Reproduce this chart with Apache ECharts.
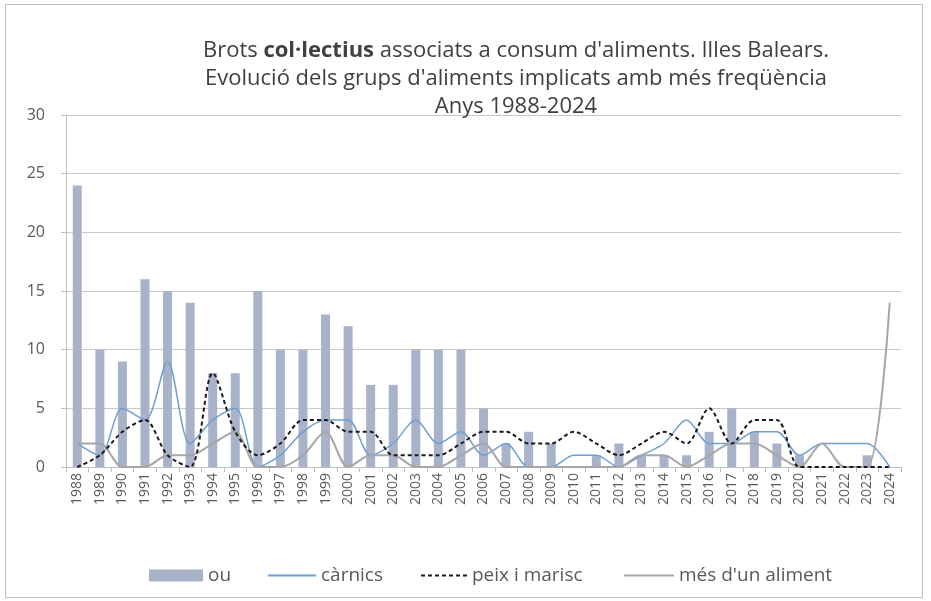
<!DOCTYPE html>
<html>
<head>
<meta charset="utf-8">
<script src="https://cdn.jsdelivr.net/npm/echarts@6/dist/echarts.min.js"></script>
<style>
html,body{margin:0;padding:0;background:#fff;}
#chart{width:931px;height:601px;}
</style>
</head>
<body>
<div id="chart"></div>
<script>
const years = ['1988','1989','1990','1991','1992','1993','1994','1995','1996','1997','1998','1999','2000','2001','2002','2003','2004','2005','2006','2007','2008','2009','2010','2011','2012','2013','2014','2015','2016','2017','2018','2019','2020','2021','2022','2023','2024'];
const ou      = [24,10,9,16,15,14,8,8,15,10,10,13,12,7,7,10,10,10,5,2,3,2,0,1,2,1,1,1,3,5,3,2,1,0,0,1,0];
const carnics = [2,1,5,4,9,2,4,5,0,1,3,4,4,1,2,4,2,3,1,2,0,0,1,1,0,1,2,4,2,2,3,3,1,2,2,2,0];
const peix    = [0,1,3,4,1,0,8,3,1,2,4,4,3,3,1,1,1,2,3,3,2,2,3,2,1,2,3,2,5,2,4,4,0,0,0,0,0];
const mesDun  = [2,2,0,0,1,1,2,3,0,0,1,3,0,1,1,0,0,1,2,0,0,0,0,0,0,1,1,0,1,2,2,1,0,2,0,0,14];
const yTicks  = [0,5,10,15,20,25,30];
const names   = ['ou','càrnics','peix i marisc',"més d'un aliment"];

const FONT = '"Open Sans", "Noto Sans", sans-serif';
const BAR_COLOR = '#a8b2c8';
const legendLefts = [144, 262, 415, 618];
const legendWidths = [54, 48, 46, 50];
const legends = names.map((n,i)=>{
  const l = {
    left:legendLefts[i], top:561,
    itemWidth:legendWidths[i], itemHeight:12, itemGap:0,
    textStyle:{fontFamily:FONT, fontSize:19, color:'#595959'},
    data:[n]
  };
  if (i===0) { l.icon = 'rect'; l.itemStyle = {color:BAR_COLOR}; }
  else { l.itemStyle = {opacity:0}; }
  return l;
});

const chart = echarts.init(document.getElementById('chart'), null, {renderer:'canvas'});
chart.setOption({
  animation:false,
  backgroundColor:'#ffffff',
  textStyle:{fontFamily:FONT},
  graphic:[{
    type:'rect', silent:true, z:-10,
    shape:{x:5.5, y:4.5, width:917, height:593},
    style:{fill:'none', stroke:'#bfbfbf', lineWidth:1}
  }],
  title:{
    left:511, top:32, textAlign:'center',
    text:"{a|Brots }{b|col·lectius}{a| associats a consum d'aliments. Illes Balears.}\n{a|Evolució dels grups d'aliments implicats amb més freqüència}\n{a|Anys 1988-2024}",
    textStyle:{
      fontWeight:'normal',
      rich:{
        a:{fontFamily:FONT, fontSize:22, color:'#404040', fontWeight:'normal', lineHeight:28},
        b:{fontFamily:FONT, fontSize:22, color:'#404040', fontWeight:'bold', lineHeight:28}
      }
    }
  },
  legend:legends,
  grid:{left:66, right:30, top:115, bottom:134, containLabel:false},
  xAxis:{
    type:'category', data:years, boundaryGap:true,
    axisLine:{lineStyle:{color:'#bfbfbf'}},
    axisTick:{show:true, length:5, lineStyle:{color:'#bfbfbf'}},
    axisLabel:{rotate:90, fontSize:14, color:'#595959', margin:6, fontFamily:FONT, interval:0}
  },
  yAxis:{
    type:'value', min:yTicks[0], max:yTicks[yTicks.length-1], interval:5,
    axisLine:{show:true, lineStyle:{color:'#bfbfbf'}},
    axisTick:{show:true, length:5, lineStyle:{color:'#bfbfbf'}},
    axisLabel:{fontSize:16, color:'#595959', margin:21, fontFamily:FONT},
    splitLine:{lineStyle:{color:'#c8c8c8', width:1}}
  },
  series:[
    {name:names[0], type:'bar', data:ou, barWidth:9, itemStyle:{color:BAR_COLOR}, z:2},
    {name:names[1], type:'line', data:carnics, smooth:0.3, symbol:'none',
     lineStyle:{color:'#6f9fd2', width:1.5}, itemStyle:{color:'#6f9fd2'}, z:3},
    {name:names[2], type:'line', data:peix, smooth:0.3, symbol:'none',
     lineStyle:{color:'#1a1a1a', width:2, type:[4,3]}, itemStyle:{color:'#1a1a1a'}, z:5},
    {name:names[3], type:'line', data:mesDun, smooth:0.3, symbol:'none',
     lineStyle:{color:'#a6a6a6', width:2}, itemStyle:{color:'#a6a6a6'}, z:4}
  ]
});
</script>
</body>
</html>
